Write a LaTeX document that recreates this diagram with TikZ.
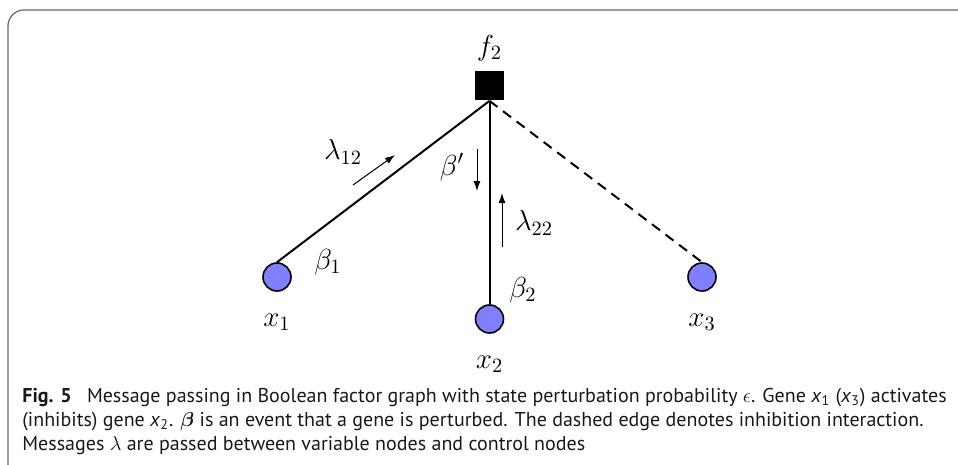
\RequirePackage{fix-cm}
\documentclass[tikz,border=0pt]{standalone}
\usepackage{amsmath,bm}
\usepackage{fontspec}
\setsansfont{PT Sans}
\usetikzlibrary{arrows.meta}
\definecolor{varblue}{RGB}{128,128,255}
\definecolor{framegray}{RGB}{100,100,100}
\begin{document}
\begin{tikzpicture}[x=0.5pt, y=-0.5pt,
    every node/.style={font=\fontsize{14.5}{16}\selectfont},
    varnode/.style={circle, draw, line width=0.8pt, fill=varblue, minimum size=14pt, inner sep=0pt},
    facnode/.style={rectangle, fill=black, minimum size=14.5pt, inner sep=0pt},
    factoredge/.style={line width=1pt},
    msg/.style={line width=0.5pt, -{Latex[length=5pt,width=3.5pt]}}]
    \useasboundingbox (0,0) rectangle (958,465);
    % frame
    \draw[framegray, line width=0.6pt, rounded corners=8pt] (8,490) -- (8,10) -- (980,10);
    % factor node and variable nodes
    \node[facnode] (f2) at (489.5,86) {};
    \foreach \n/\x/\y in {1/277/277, 2/489.5/319, 3/702/277} {
        \node[varnode] (x\n) at (\x,\y) {};
    }
    % edges
    \draw[factoredge] (f2.south) -- (x1.north);
    \draw[factoredge] (f2.south) -- (x2.north);
    \draw[factoredge, dash pattern=on 5pt off 3.5pt] (f2.south) -- (x3.north);
    % labels
    \node (lf2) at (489.5,48) {$f_2$};
    \foreach \n/\x/\y in {1/277/322, 2/489.5/364, 3/702/322} {
        \node (lx\n) at (\x,\y) {$x_\n$};
    }
    \node (lb1) at (328,262) {$\beta_1$};
    \node (lb2) at (523,290) {$\beta_2$};
    \node (lbp) at (452,167) {$\beta'$};
    \node (ll12) at (343,152) {$\lambda_{12}$};
    \node (ll22) at (534,223) {$\lambda_{22}$};
    % messages
    \coordinate (m12a) at (353,185);
    \coordinate (m12b) at (395,155);
    \coordinate (mbpa) at (477,149);
    \coordinate (mbpb) at (477,191);
    \coordinate (m22a) at (502,247);
    \coordinate (m22b) at (502,193);
    \draw[msg] (m12a) -- (m12b);
    \draw[msg] (mbpa) -- (mbpb);
    \draw[msg] (m22a) -- (m22b);
    % caption
    \node[anchor=north west, align=left, inner sep=0pt, text=black!90,
          font=\sffamily\fontsize{10}{12}\selectfont] (cap) at (22,388)
        {\textbf{Fig. 5}\hspace{5pt} Message passing in Boolean factor graph with state perturbation probability $\epsilon$. Gene \textit{x}\textsubscript{1} (\textit{x}\textsubscript{3}) activates\\
         (inhibits) gene \textit{x}\textsubscript{2}. $\bm{\beta}$ is an event that a gene is perturbed. The dashed edge denotes inhibition interaction.\\
         Messages $\lambda$ are passed between variable nodes and control nodes};
\end{tikzpicture}
\end{document}
